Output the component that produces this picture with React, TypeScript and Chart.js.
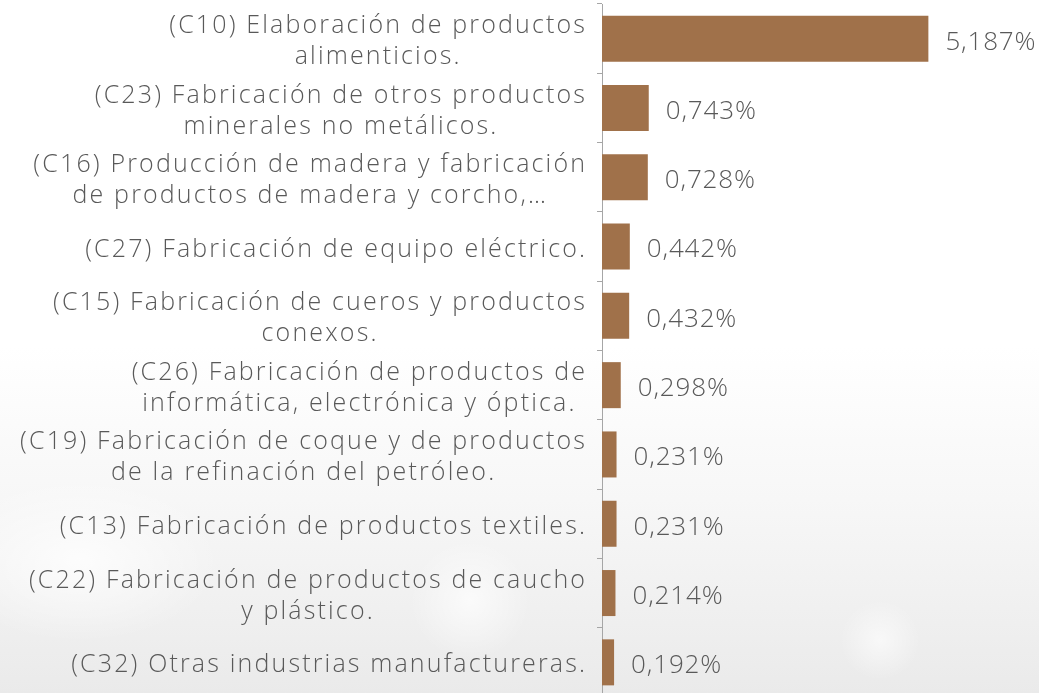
import React, { useEffect, useRef } from "react";
import { Chart, registerables } from "chart.js";

Chart.register(...registerables);

const categories: string[][] = [
  ["(C10) Elaboración de productos", "alimenticios."],
  ["(C23) Fabricación de otros productos", "minerales no metálicos."],
  ["(C16) Producción de madera y fabricación", "de productos de madera y corcho,…"],
  ["(C27) Fabricación de equipo eléctrico."],
  ["(C15) Fabricación de cueros y productos", "conexos."],
  ["(C26) Fabricación de productos de", "informática, electrónica y óptica."],
  ["(C19) Fabricación de coque y de productos", "de la refinación del petróleo."],
  ["(C13) Fabricación de productos textiles."],
  ["(C22) Fabricación de productos de caucho", "y plástico."],
  ["(C32) Otras industrias manufactureras."],
];

const values: number[] = [5.187, 0.743, 0.728, 0.442, 0.432, 0.298, 0.231, 0.231, 0.214, 0.192];

const valueLabels: string[] = ["5,187%", "0,743%", "0,728%", "0,442%", "0,432%", "0,298%", "0,231%", "0,231%", "0,214%", "0,192%"];

const FONT = "'Open Sans', Lato, sans-serif";
const TEXT_COLOR = "#595959";

export default function App() {
  const ref = useRef<HTMLCanvasElement | null>(null);

  useEffect(() => {
    document.body.style.margin = "0";
    const canvas = ref.current;
    if (!canvas) return;

    const labelPlugin = {
      id: "customLabels",
      afterDraw(chart: any) {
        const ctx = chart.ctx;
        const yScale = chart.scales.y;
        ctx.save();
        ctx.fillStyle = TEXT_COLOR;
        ctx.textBaseline = "middle";

        // category labels: fit reference text width via letter spacing
        ctx.font = `300 25px ${FONT}`;
        ctx.letterSpacing = "0px";
        const refText = "(C27) Fabricación de equipo eléctrico.";
        const w0 = ctx.measureText(refText).width;
        const ls = Math.max(0, (502 - w0) / refText.length);
        ctx.letterSpacing = `${ls}px`;
        ctx.textAlign = "left";
        const right = chart.chartArea.left - 17;
        categories.forEach((lines, i) => {
          const y = yScale.getPixelForValue(i);
          const widths = lines.map((l) => ctx.measureText(l).width - ls);
          const maxW = Math.max(...widths);
          const cx = right - maxW / 2;
          const lh = 31;
          lines.forEach((l, j) => {
            ctx.fillText(l, cx - widths[j] / 2, y + (j - (lines.length - 1) / 2) * lh + 3);
          });
        });

        // value labels
        ctx.font = `300 26px ${FONT}`;
        ctx.letterSpacing = "0px";
        const v0 = ctx.measureText("5,187%").width;
        const vls = Math.max(0, (91 - v0) / 6);
        ctx.letterSpacing = `${vls}px`;
        const meta = chart.getDatasetMeta(0);
        meta.data.forEach((bar: any, i: number) => {
          ctx.fillText(valueLabels[i], bar.x + 17, bar.y + 3.5);
        });
        ctx.restore();
      },
    };

    const chart = new Chart(canvas, {
      type: "bar",
      data: {
        labels: categories.map((c) => c.join(" ")),
        datasets: [
          {
            data: values,
            backgroundColor: "#A0714A",
            borderWidth: 0,
            barPercentage: 0.664,
            categoryPercentage: 1,
          },
        ],
      },
      options: {
        indexAxis: "y",
        animation: false,
        responsive: false,
        layout: { padding: { top: 4, right: 28, bottom: 0, left: 0 } },
        plugins: { legend: { display: false }, tooltip: { enabled: false } },
        scales: {
          x: {
            display: false,
            min: 0,
            max: 6.5,
          },
          y: {
            afterFit: (scale: any) => {
              scale.width = 602;
            },
            ticks: { display: false },
            grid: {
              offset: true,
              drawOnChartArea: false,
              drawTicks: true,
              tickLength: 5,
              color: "#a6a6a6",
            },
            border: { display: true, color: "#a6a6a6", width: 1 },
          },
        },
      },
      plugins: [labelPlugin],
    });
    return () => chart.destroy();
  }, []);

  return (
    <div
      style={{
        position: "fixed",
        left: 0,
        top: 0,
        width: 1039,
        height: 693,
        overflow: "hidden",
        background:
          "radial-gradient(circle at 470px 600px, rgba(255,255,255,0.7) 0, rgba(255,255,255,0) 60px), radial-gradient(circle at 880px 640px, rgba(255,255,255,0.6) 0, rgba(255,255,255,0) 40px), radial-gradient(ellipse at 80px 560px, rgba(255,255,255,0.8) 0, rgba(255,255,255,0) 140px), linear-gradient(to bottom, #ffffff 0%, #ffffff 50%, #f7f7f7 72%, #efefef 90%, #eaeaea 100%)",
      }}
    >
      <canvas ref={ref} width={1039} height={697} style={{ display: "block" }} />
    </div>
  );
}
